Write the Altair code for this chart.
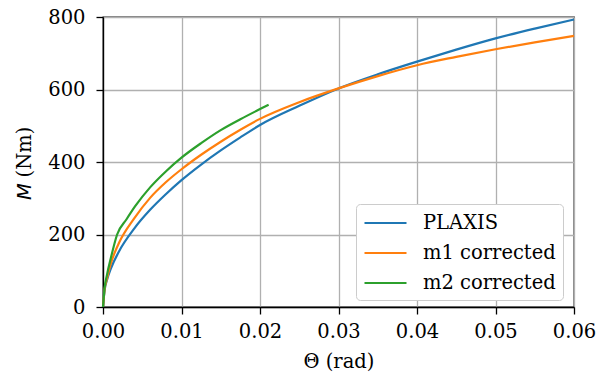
import altair as alt
import pandas as pd

plaxis_x = [0, 0.0002, 0.0005, 0.001, 0.002, 0.004, 0.006, 0.008, 0.01, 0.0125, 0.015, 0.0175, 0.02, 0.025, 0.03, 0.035, 0.04, 0.045, 0.05, 0.055, 0.06]
plaxis_y = [0, 46, 74, 106, 152, 217, 268, 311, 350, 393, 432, 468, 502, 555, 603, 642, 677, 710, 741, 768, 793]

m1_x = [0, 0.0002, 0.0005, 0.001, 0.002, 0.004, 0.006, 0.008, 0.01, 0.0125, 0.015, 0.0175, 0.02, 0.025, 0.03, 0.035, 0.04, 0.045, 0.05, 0.055, 0.06]
m1_y = [0, 48, 78, 120, 175, 245, 301, 344, 380, 420, 456, 489, 519, 565, 603, 637, 667, 690, 711, 730, 748]

m2_x = [0, 0.0002, 0.0005, 0.001, 0.0018, 0.003, 0.0041, 0.006, 0.008, 0.01, 0.0125, 0.015, 0.0175, 0.02, 0.0211]
m2_y = [0, 52, 88, 135, 200, 242, 278, 330, 374, 412, 452, 488, 518, 546, 558]

names = ["PLAXIS", "m1 corrected", "m2 corrected"]
colors = ["#1f77b4", "#ff7f0e", "#2ca02c"]

rows = []
for n, xs, ys in zip(names, [plaxis_x, m1_x, m2_x], [plaxis_y, m1_y, m2_y]):
    for i, (a, b) in enumerate(zip(xs, ys)):
        rows.append({"series": n, "theta": a, "M": b, "order": i})
df = pd.DataFrame(rows)

FONT = "DejaVu Serif"
FS = 19.5

lines = alt.Chart(df).mark_line(strokeWidth=2.2, interpolate="monotone").encode(
    x=alt.X("theta:Q", scale=alt.Scale(domain=[0, 0.06], nice=False),
            axis=alt.Axis(title="Θ (rad)", values=[0, 0.01, 0.02, 0.03, 0.04, 0.05, 0.06], format=".2f",
                          labelPadding=8, titlePadding=12)),
    y=alt.Y("M:Q", scale=alt.Scale(domain=[0, 800], nice=False),
            axis=alt.Axis(title=None, values=[0, 200, 400, 600, 800], labelPadding=11)),
    color=alt.Color("series:N", scale=alt.Scale(domain=names, range=colors),
                    legend=alt.Legend(title=None, orient="none", legendX=253, legendY=187,
                                      symbolType="M-1,0L3,0", symbolStrokeWidth=2.2, symbolSize=441,
                                      labelFontSize=FS, labelFont=FONT, labelColor="black",
                                      rowPadding=8, padding=7, fillColor="white",
                                      strokeColor="#cccccc", cornerRadius=4,
                                      labelOffset=36)),
    order="order:Q",
)

ytitle_m = alt.Chart(pd.DataFrame({"t": ["M"]})).mark_text(
    angle=270, font="DejaVu Sans", fontSize=FS, fontStyle="italic", color="black", baseline="middle", align="center"
).encode(x=alt.value(-78), y=alt.value(174.5), text="t:N")
ytitle_rest = alt.Chart(pd.DataFrame({"t": ["(Nm)"]})).mark_text(
    angle=270, font=FONT, fontSize=FS, color="black", baseline="middle", align="center"
).encode(x=alt.value(-78), y=alt.value(135), text="t:N")

chart = alt.layer(lines, ytitle_m, ytitle_rest).properties(
    width=471, height=290,
    autosize=alt.AutoSizeParams(type="none"),
    padding={"left": 103, "top": 17, "right": 33, "bottom": 70},
).configure_view(stroke="black", strokeWidth=1.3).configure_axis(
    labelFont=FONT, labelFontSize=FS, labelColor="black",
    titleFont=FONT, titleFontSize=FS, titleColor="black", titleFontWeight="normal",
    domainColor="black", domainWidth=1.3, tickColor="black", tickWidth=1.3, tickSize=7,
    gridColor="#b0b0b0", gridWidth=1.3, labelFlush=False,
)

chart.save("out.html", embed_options={"renderer": "svg", "actions": False})
